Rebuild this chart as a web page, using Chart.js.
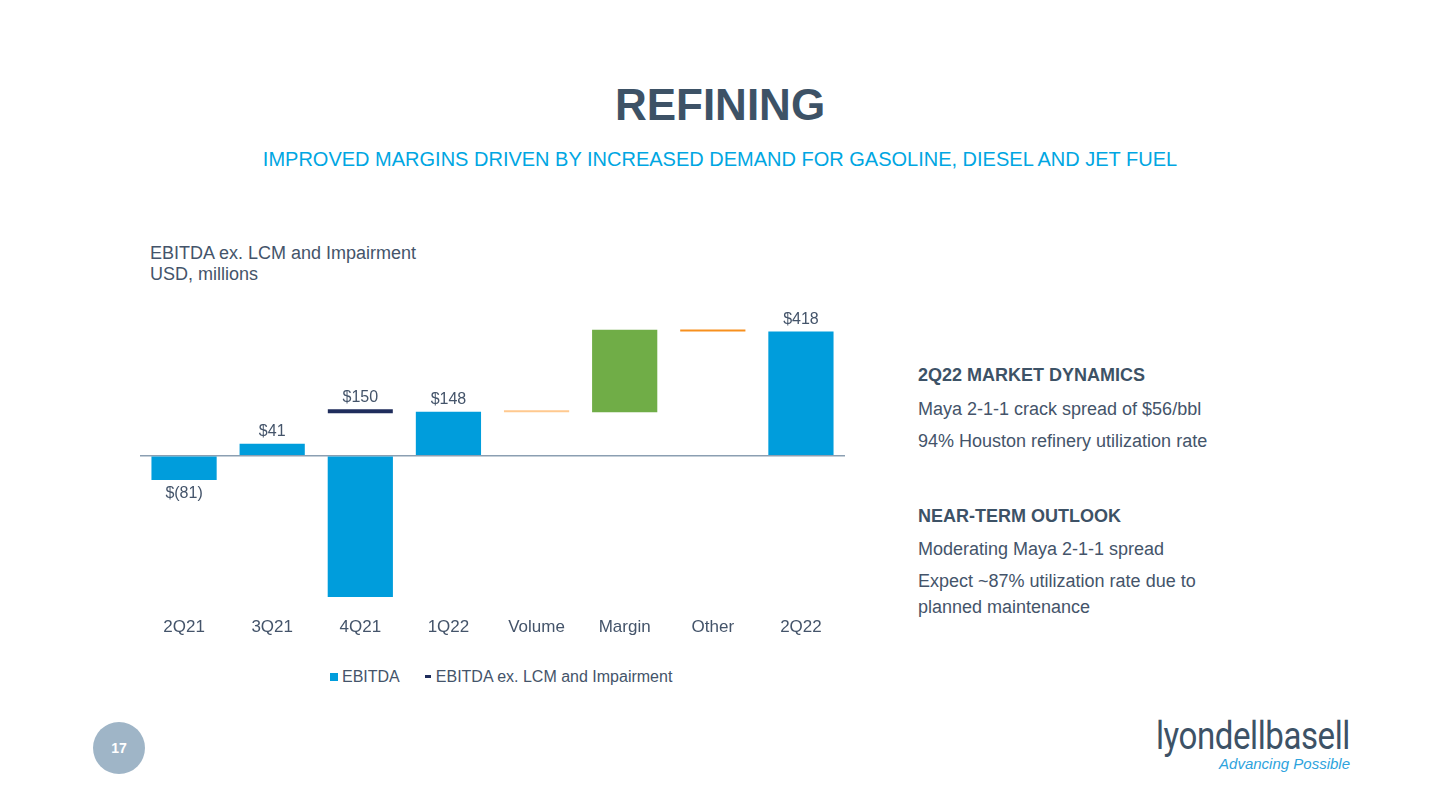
<!DOCTYPE html>
<html>
<head>
<meta charset="utf-8">
<script src="https://cdn.jsdelivr.net/npm/chart.js@4.4.1/dist/chart.umd.min.js"></script>
<style>
    html, body {
        margin: 0;
        padding: 0;
        background: #ffffff;
        font-family: "Liberation Sans", Arial, sans-serif;
    }

    .slide {
        position: relative;
        width: 1440px;
        height: 810px;
        overflow: hidden;
    }

    .title {
        position: absolute;
        top: 80px;
        left: 0;
        width: 1440px;
        text-align: center;
        font-size: 44px;
        font-weight: 700;
        color: #3d5266;
    }

    .subtitle {
        position: absolute;
        top: 148px;
        left: 0;
        width: 1440px;
        text-align: center;
        font-size: 20px;
        color: #00a6e2;
    }

    .axis-title {
        position: absolute;
        top: 243px;
        left: 150px;
        font-size: 18px;
        line-height: 21px;
        color: #44546a;
    }

    .chart-box {
        position: absolute;
        left: 100px;
        top: 300px;
        width: 760px;
        height: 359px;
    }

    .legend {
        position: absolute;
        top: 666px;
        left: 330px;
        font-size: 16px;
        line-height: 20px;
        color: #44546a;
        white-space: nowrap;
    }

    .legend span {
        display: inline-block;
        vertical-align: middle;
    }

    .swatch-box {
        width: 8px;
        height: 8px;
        background: #009ddc;
        margin-right: 4px;
    }

    .swatch-line {
        width: 6px;
        height: 3px;
        background: #1f2d5c;
        margin: 0 5px 0 25px;
    }

    .line {
        position: absolute;
        left: 918px;
        font-size: 18px;
        line-height: 22px;
        color: #44546a;
        white-space: nowrap;
    }

    .line.head {
        font-weight: 700;
        color: #3d5266;
    }

    .page-no {
        position: absolute;
        left: 93px;
        top: 722px;
        width: 52px;
        height: 52px;
        border-radius: 50%;
        background: #9fb5c7;
        color: #ffffff;
        font-size: 14px;
        font-weight: 700;
        text-align: center;
        line-height: 52px;
    }

    .logo {
        position: absolute;
        right: 90px;
        top: 715px;
        text-align: right;
    }

    .logo .name {
        font-family: Roboto, sans-serif;
        font-weight: 400;
        font-size: 38px;
        letter-spacing: -0.5px;
        color: #3d5266;
        line-height: 42px;
        transform: scaleX(0.87);
        transform-origin: right center;
    }

    .logo .tag {
        font-style: italic;
        font-size: 15px;
        color: #2ea3dd;
        line-height: 16px;
        margin-top: -1px;
    }
</style>
</head>
<body>
<div class="slide">

    <div class="title">REFINING</div>
    <div class="subtitle">IMPROVED MARGINS DRIVEN BY INCREASED DEMAND FOR GASOLINE, DIESEL AND JET FUEL</div>

    <div class="axis-title">EBITDA ex. LCM and Impairment<br>USD, millions</div>

    <div class="chart-box">
        <canvas id="refiningChart"></canvas>
    </div>

    <div class="legend">
        <span class="swatch-box"></span><span>EBITDA</span><span class="swatch-line"></span><span>EBITDA ex. LCM and Impairment</span>
    </div>

    <div class="line head" style="top: 364px;">2Q22 MARKET DYNAMICS</div>
    <div class="line" style="top: 398px;">Maya 2-1-1 crack spread of $56/bbl</div>
    <div class="line" style="top: 430px;">94% Houston refinery utilization rate</div>

    <div class="line head" style="top: 505px;">NEAR-TERM OUTLOOK</div>
    <div class="line" style="top: 538px;">Moderating Maya 2-1-1 spread</div>
    <div class="line" style="top: 570px;">Expect ~87% utilization rate due to</div>
    <div class="line" style="top: 596px;">planned maintenance</div>

    <div class="page-no">17</div>

    <div class="logo">
        <div class="name">lyondellbasell</div>
        <div class="tag">Advancing Possible</div>
    </div>

</div>

<script>
/* ==========================================
   Data
========================================== */

const categories = ['2Q21', '3Q21', '4Q21', '1Q22', 'Volume', 'Margin', 'Other', '2Q22'];

// reported EBITDA bars (null = bridge step)
const ebitda = [-81, 41, -475, 148, null, null, null, 418];

// EBITDA ex. LCM and Impairment marker
const exLcm = [null, null, 150, null, null, null, null, null];

// bridge steps from 1Q22 to 2Q22
const bridgeFrom = [null, null, null, null, 148, 147, 424, null];
const bridgeTo = [null, null, null, null, 147, 424, 418, null];

// value labels shown on the chart
const barLabels = ['$(81)', '$41', '', '$148', '', '', '', '$418'];
const markerLabels = ['', '', '$150', '', '', '', '', ''];

const yMin = -480;
const yMax = 430;

/* ==========================================
   Chart
========================================== */

document.addEventListener('DOMContentLoaded', function () {

    const canvas = document.getElementById('refiningChart');

    const bridgeColors = categories.map(function (label) {
        if (label === 'Volume') return '#ffc98f';
        if (label === 'Margin') return '#70ad47';
        if (label === 'Other') return '#f7901e';
        return 'transparent';
    });

    const valueLabels = {
        id: 'valueLabels',
        afterDatasetsDraw: function (chart) {
            const ctx = chart.ctx;
            ctx.save();
            ctx.font = '16px "Liberation Sans", Arial, sans-serif';
            ctx.fillStyle = '#44546a';
            ctx.textAlign = 'center';

            chart.getDatasetMeta(0).data.forEach(function (bar, i) {
                const text = barLabels[i];
                if (!text) return;
                if (ebitda[i] < 0) {
                    ctx.textBaseline = 'top';
                    ctx.fillText(text, bar.x, bar.y + 6);
                } else {
                    ctx.textBaseline = 'bottom';
                    ctx.fillText(text, bar.x, bar.y - 4);
                }
            });

            chart.getDatasetMeta(2).data.forEach(function (point, i) {
                const text = markerLabels[i];
                if (!text) return;
                ctx.textBaseline = 'bottom';
                ctx.fillText(text, point.x, point.y - 6);
            });

            ctx.restore();
        }
    };

    new Chart(canvas, {

        data: {

            labels: categories,

            datasets: [

                {
                    type: 'bar',
                    label: 'EBITDA',
                    data: ebitda,
                    backgroundColor: '#009ddc',
                    grouped: false,
                    barPercentage: 0.74,
                    categoryPercentage: 1,
                    order: 2
                },

                {
                    type: 'bar',
                    label: 'Bridge',
                    data: bridgeFrom.map(function (from, i) {
                        return from === null ? null : [from, bridgeTo[i]];
                    }),
                    backgroundColor: bridgeColors,
                    grouped: false,
                    barPercentage: 0.74,
                    categoryPercentage: 1,
                    minBarLength: 2,
                    order: 2
                },

                {
                    type: 'line',
                    label: 'EBITDA ex. LCM and Impairment',
                    data: exLcm,
                    showLine: false,
                    pointStyle: 'line',
                    pointRadius: 32.5,
                    pointHoverRadius: 32.5,
                    pointBorderWidth: 4,
                    borderColor: '#1f2d5c',
                    backgroundColor: '#1f2d5c',
                    order: 1
                }

            ]

        },

        options: {

            responsive: true,

            maintainAspectRatio: false,

            animation: false,

            layout: {
                autoPadding: false,
                padding: {
                    left: 40,
                    right: 15,
                    top: 28,
                    bottom: 10
                }
            },

            plugins: {
                legend: {
                    display: false
                },
                tooltip: {
                    enabled: false
                }
            },

            scales: {

                x: {
                    grid: {
                        display: false
                    },
                    border: {
                        display: false
                    },
                    ticks: {
                        color: '#44546a',
                        padding: 11,
                        font: {
                            family: '"Liberation Sans", Arial, sans-serif',
                            size: 17
                        }
                    }
                },

                y: {
                    min: yMin,
                    max: yMax,
                    border: {
                        display: false
                    },
                    grid: {
                        drawTicks: false,
                        lineWidth: 1.5,
                        color: function (context) {
                            return context.tick && context.tick.value === 0
                                ? '#8b9fb2'
                                : 'transparent';
                        }
                    },
                    ticks: {
                        display: false,
                        stepSize: 10
                    }
                }

            }

        },

        plugins: [valueLabels]

    });

});
</script>
</body>
</html>
